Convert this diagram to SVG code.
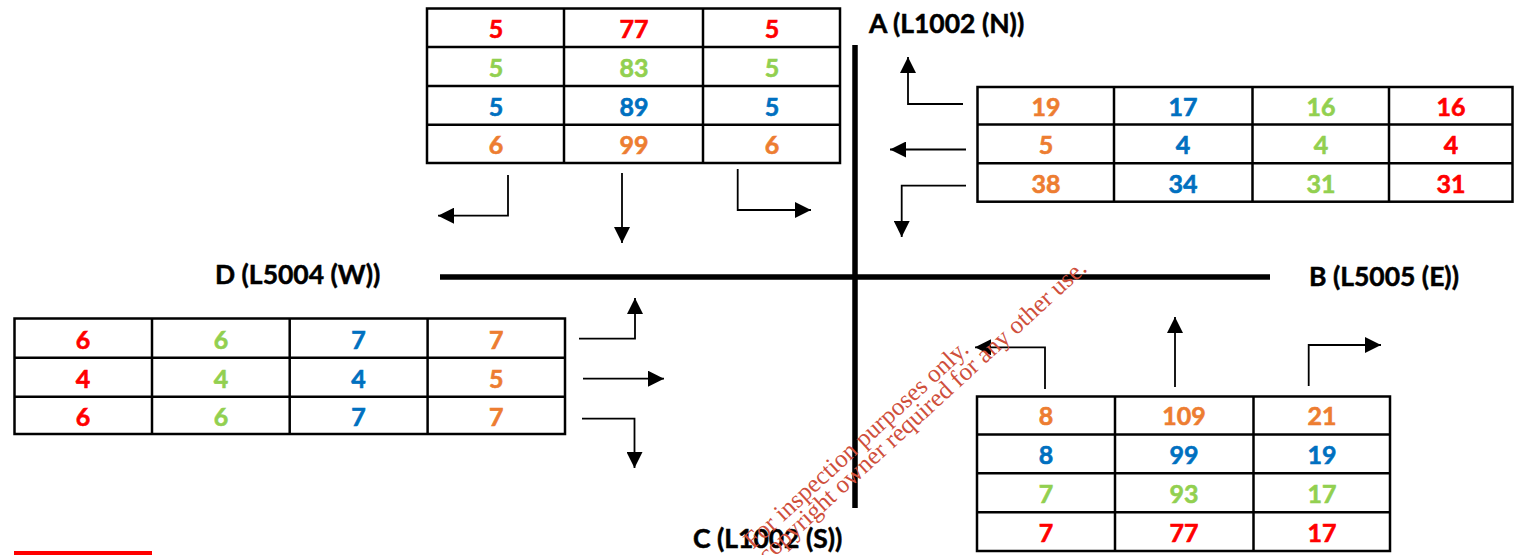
<svg xmlns="http://www.w3.org/2000/svg" width="1515" height="555" viewBox="0 0 1515 555">
<style>
.grid{fill:none;stroke:#000;stroke-width:2.5}
.road{stroke:#000;stroke-width:5.5;fill:none}
.arr{fill:none;stroke:#000;stroke-width:1.8;marker-end:url(#ah)}
.v{font-family:Lato,"Liberation Sans",sans-serif;font-weight:bold;font-size:25px;text-anchor:middle;stroke-width:0.6}
.lbl{font-family:Lato,"Liberation Sans",sans-serif;font-weight:bold;font-size:26.5px;fill:#000;stroke:#000;stroke-width:0.5}
.r{fill:#FF0000;stroke:#FF0000}.g{fill:#92D050;stroke:#92D050}.b{fill:#0070C0;stroke:#0070C0}.o{fill:#ED7D31;stroke:#ED7D31}
.wm{font-family:"Liberation Serif",serif;font-size:25px;fill:#CF4F3C;text-anchor:end}
</style>
<defs>
<marker id="ah" markerUnits="userSpaceOnUse" markerWidth="16" markerHeight="16" refX="15" refY="7.5" orient="auto" viewBox="0 0 15 15">
<path d="M0,0 L15,7.5 L0,15 z" fill="#000"/>
</marker>
</defs>
<rect width="1515" height="555" fill="#fff"/>

<g id="roads">
<line class="road" x1="855" y1="45" x2="855" y2="508"/>
<line class="road" x1="440" y1="277" x2="1270" y2="277"/>
</g>

<g id="label-A"><text class="lbl" x="869" y="33">A (L1002 (N))</text></g>
<g id="label-B"><text class="lbl" x="1309" y="286">B (L5005 (E))</text></g>
<g id="label-C"><text class="lbl" x="693" y="548">C (L1002 (S))</text></g>
<g id="label-D"><text class="lbl" x="215" y="284">D (L5004 (W))</text></g>

<g id="table-north">
<rect class="grid" x="427" y="8.5" width="413" height="154.5"/>
<line class="grid" x1="564" y1="8.5" x2="564" y2="163"/>
<line class="grid" x1="703" y1="8.5" x2="703" y2="163"/>
<line class="grid" x1="427" y1="47" x2="840" y2="47"/>
<line class="grid" x1="427" y1="86" x2="840" y2="86"/>
<line class="grid" x1="427" y1="124.7" x2="840" y2="124.7"/>
<text class="v r" x="496" y="38">5</text><text class="v r" x="634" y="38">77</text><text class="v r" x="772" y="38">5</text>
<text class="v g" x="496" y="76.5">5</text><text class="v g" x="634" y="76.5">83</text><text class="v g" x="772" y="76.5">5</text>
<text class="v b" x="496" y="115.5">5</text><text class="v b" x="634" y="115.5">89</text><text class="v b" x="772" y="115.5">5</text>
<text class="v o" x="496" y="154">6</text><text class="v o" x="634" y="154">99</text><text class="v o" x="772" y="154">6</text>
</g>

<g id="table-east">
<rect class="grid" x="977.5" y="87" width="535" height="114.7"/>
<line class="grid" x1="1114" y1="87" x2="1114" y2="201.7"/>
<line class="grid" x1="1252.5" y1="87" x2="1252.5" y2="201.7"/>
<line class="grid" x1="1389" y1="87" x2="1389" y2="201.7"/>
<line class="grid" x1="977.5" y1="124.5" x2="1512.5" y2="124.5"/>
<line class="grid" x1="977.5" y1="163.3" x2="1512.5" y2="163.3"/>
<text class="v o" x="1046" y="115.5">19</text><text class="v b" x="1183" y="115.5">17</text><text class="v g" x="1321" y="115.5">16</text><text class="v r" x="1451" y="115.5">16</text>
<text class="v o" x="1046" y="154">5</text><text class="v b" x="1183" y="154">4</text><text class="v g" x="1321" y="154">4</text><text class="v r" x="1451" y="154">4</text>
<text class="v o" x="1046" y="192.5">38</text><text class="v b" x="1183" y="192.5">34</text><text class="v g" x="1321" y="192.5">31</text><text class="v r" x="1451" y="192.5">31</text>
</g>

<g id="table-west">
<rect class="grid" x="14.5" y="318.5" width="550.5" height="115.5"/>
<line class="grid" x1="152" y1="318.5" x2="152" y2="434"/>
<line class="grid" x1="289.7" y1="318.5" x2="289.7" y2="434"/>
<line class="grid" x1="427.6" y1="318.5" x2="427.6" y2="434"/>
<line class="grid" x1="14.5" y1="357.7" x2="565" y2="357.7"/>
<line class="grid" x1="14.5" y1="396.7" x2="565" y2="396.7"/>
<text class="v r" x="83" y="348.5">6</text><text class="v g" x="221" y="348.5">6</text><text class="v b" x="358.6" y="348.5">7</text><text class="v o" x="496.3" y="348.5">7</text>
<text class="v r" x="83" y="387.5">4</text><text class="v g" x="221" y="387.5">4</text><text class="v b" x="358.6" y="387.5">4</text><text class="v o" x="496.3" y="387.5">5</text>
<text class="v r" x="83" y="426">6</text><text class="v g" x="221" y="426">6</text><text class="v b" x="358.6" y="426">7</text><text class="v o" x="496.3" y="426">7</text>
</g>

<g id="table-south">
<rect class="grid" x="977" y="396.5" width="413" height="154.5"/>
<line class="grid" x1="1115" y1="396.5" x2="1115" y2="551"/>
<line class="grid" x1="1253.5" y1="396.5" x2="1253.5" y2="551"/>
<line class="grid" x1="977" y1="434.5" x2="1390" y2="434.5"/>
<line class="grid" x1="977" y1="473.3" x2="1390" y2="473.3"/>
<line class="grid" x1="977" y1="512.3" x2="1390" y2="512.3"/>
<text class="v o" x="1046" y="425">8</text><text class="v o" x="1184" y="425">109</text><text class="v o" x="1322" y="425">21</text>
<text class="v b" x="1046" y="464">8</text><text class="v b" x="1184" y="464">99</text><text class="v b" x="1322" y="464">19</text>
<text class="v g" x="1046" y="503">7</text><text class="v g" x="1184" y="503">93</text><text class="v g" x="1322" y="503">17</text>
<text class="v r" x="1046" y="542">7</text><text class="v r" x="1184" y="542">77</text><text class="v r" x="1322" y="542">17</text>
</g>

<g id="connectors">
<path class="arr" d="M508,175 V215.7 H438"/>
<path class="arr" d="M622,173 V243"/>
<path class="arr" d="M737.7,169 V210 H811"/>
<path class="arr" d="M963,104 H908 V57"/>
<path class="arr" d="M966,149.5 H890"/>
<path class="arr" d="M966,185.7 H901.7 V237"/>
<path class="arr" d="M579,338.7 H635 V298"/>
<path class="arr" d="M583,378.7 H664"/>
<path class="arr" d="M582,418.7 H634.5 V468"/>
<path class="arr" d="M1045,389 V347.3 H975"/>
<path class="arr" d="M1175,387 V317"/>
<path class="arr" d="M1308.7,386 V345 H1381"/>
</g>

<rect x="14" y="551" width="138" height="4" fill="#FF0000"/>

<g id="watermark">
<text class="wm" transform="translate(970,351) rotate(-42.5)">For inspection purposes only.</text>
<text class="wm" transform="translate(1088,270) rotate(-42.5)">Consent of copyright owner required for any other use.</text>
</g>
</svg>
